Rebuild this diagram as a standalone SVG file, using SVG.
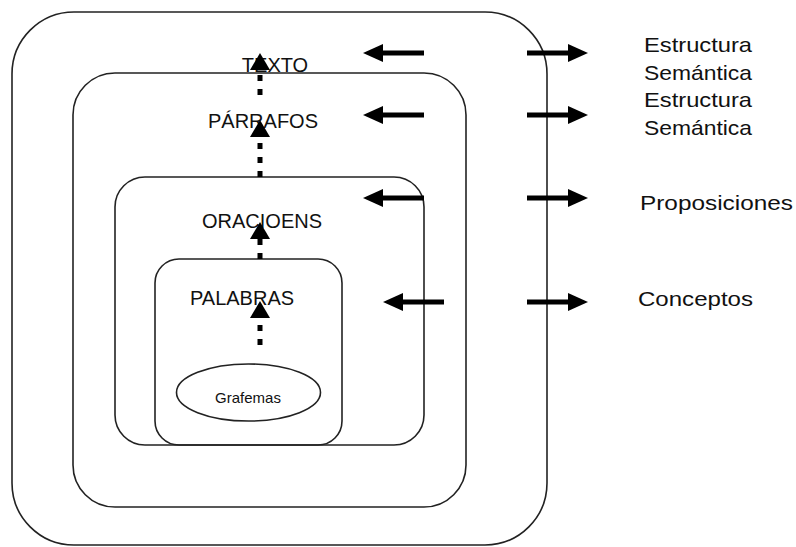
<svg xmlns="http://www.w3.org/2000/svg" width="796" height="547" viewBox="0 0 796 547">
<style>
.box{fill:none;stroke:#222;stroke-width:1.6}
.t{font-family:"Liberation Sans",Arial,sans-serif;fill:#111}
.inner{font-size:20px;text-anchor:middle}
.side{font-size:21px}
.arr{stroke:#000;stroke-width:5;fill:none}
.dot{stroke:#000;stroke-width:5;fill:none;stroke-dasharray:6 8}
</style>
<defs>
<marker id="ah" markerUnits="userSpaceOnUse" markerWidth="22" markerHeight="20" refX="0" refY="9" orient="auto">
<path d="M0,0 L20,9 L0,18 z" fill="#000"/>
</marker>
<marker id="vh" markerUnits="userSpaceOnUse" markerWidth="20" markerHeight="20" refX="0" refY="10" orient="auto">
<path d="M0,0 L17,10 L0,20 z" fill="#000"/>
</marker>
</defs>
<rect width="796" height="547" fill="#fff"/>
<g id="texto">
<rect class="box" x="12" y="12" width="535" height="533" rx="62" ry="62"/>
<text class="t inner" x="275" y="72">TEXTO</text>
</g>
<g id="parrafos">
<rect class="box" x="73" y="73" width="393" height="434" rx="42" ry="42"/>
<text class="t inner" x="263" y="128">PÁRRAFOS</text>
</g>
<g id="oraciones">
<rect class="box" x="115" y="177" width="309" height="268" rx="30" ry="30"/>
<text class="t inner" x="262" y="228">ORACIOENS</text>
</g>
<g id="palabras">
<rect class="box" x="155" y="259" width="187" height="186" rx="24" ry="24"/>
<text class="t inner" x="242" y="305">PALABRAS</text>
</g>
<g id="grafemas">
<ellipse class="box" cx="248.5" cy="392.5" rx="72" ry="28.5"/>
<text class="t" x="248" y="403" font-size="15" text-anchor="middle">Grafemas</text>
</g>
<g id="labels">
<text class="t side" x="644" y="52" textLength="108" lengthAdjust="spacingAndGlyphs">Estructura</text>
<text class="t side" x="644" y="80" textLength="108" lengthAdjust="spacingAndGlyphs">Semántica</text>
<text class="t side" x="644" y="107" textLength="108" lengthAdjust="spacingAndGlyphs">Estructura</text>
<text class="t side" x="644" y="135" textLength="108" lengthAdjust="spacingAndGlyphs">Semántica</text>
<text class="t side" x="640" y="210" textLength="153" lengthAdjust="spacingAndGlyphs">Proposiciones</text>
<text class="t side" x="638" y="306" textLength="115" lengthAdjust="spacingAndGlyphs">Conceptos</text>
</g>
<g id="connectors">
<line class="dot" x1="260" y1="345" x2="260" y2="318" marker-end="url(#vh)"/>
<line class="dot" x1="260" y1="259" x2="260" y2="239" marker-end="url(#vh)"/>
<line class="dot" x1="260" y1="177" x2="260" y2="137" marker-end="url(#vh)"/>
<line class="dot" x1="260" y1="95" x2="260" y2="70" marker-end="url(#vh)"/>
<line class="arr" x1="424" y1="53" x2="383" y2="53" marker-end="url(#ah)"/>
<line class="arr" x1="424" y1="115" x2="383" y2="115" marker-end="url(#ah)"/>
<line class="arr" x1="424" y1="198" x2="383" y2="198" marker-end="url(#ah)"/>
<line class="arr" x1="444" y1="302" x2="403" y2="302" marker-end="url(#ah)"/>
<line class="arr" x1="527" y1="53" x2="568" y2="53" marker-end="url(#ah)"/>
<line class="arr" x1="527" y1="115" x2="568" y2="115" marker-end="url(#ah)"/>
<line class="arr" x1="527" y1="198" x2="568" y2="198" marker-end="url(#ah)"/>
<line class="arr" x1="527" y1="302" x2="568" y2="302" marker-end="url(#ah)"/>
</g>
</svg>
